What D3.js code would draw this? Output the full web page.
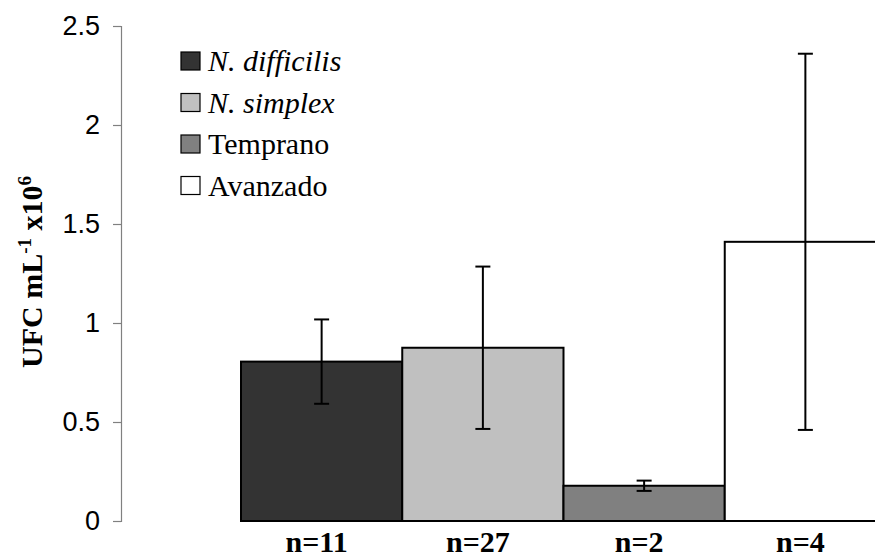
<!DOCTYPE html>
<html>
<head>
<meta charset="utf-8">
<script src="https://cdn.jsdelivr.net/npm/d3@7"></script>
<style>
  body { margin: 0; background: #fff; }
  svg { display: block; }
</style>
</head>
<body>
<svg id="chart"></svg>
<script>
// data
const groups = ["N. difficilis", "N. simplex", "Temprano", "Avanzado"];
const counts = ["n=11", "n=27", "n=2", "n=4"];
const means = [0.805, 0.875, 0.178, 1.41];
const errors = [0.213, 0.41, 0.026, 0.95];
const italicNames = [true, true, false, false];
const yTicks = [0, 0.5, 1, 1.5, 2, 2.5];

const fills = d3.scaleOrdinal().domain(groups)
  .range(["#333333", "#c0c0c0", "#808080", "#ffffff"]);

const width = 875;
const height = 559;
const svg = d3.select("#chart").attr("width", width).attr("height", height);

const y = d3.scaleLinear().domain([0, 2.5]).range([521, 26]);
const x = d3.scaleBand().domain(groups).range([241, 886]).padding(0);

// y axis
const yAxis = svg.append("g")
  .attr("transform", "translate(121,0)")
  .call(d3.axisLeft(y).tickValues(yTicks).tickSize(8).tickPadding(13)
    .tickFormat((d) => String(d)));
yAxis.select(".domain").attr("stroke", "#808080").attr("stroke-width", 1.2);
yAxis.selectAll(".tick line").attr("stroke", "#808080").attr("stroke-width", 1.2);
yAxis.selectAll("text")
  .style("font-family", "'Liberation Sans', Arial, sans-serif")
  .style("font-size", "27px")
  .attr("fill", "#000");

// bars
svg.selectAll("rect.bar")
  .data(groups)
  .enter()
  .append("rect")
  .attr("class", "bar")
  .attr("x", (d) => x(d))
  .attr("y", (d, i) => y(means[i]))
  .attr("width", x.bandwidth())
  .attr("height", (d, i) => y(0) - y(means[i]))
  .attr("fill", (d) => fills(d))
  .attr("stroke", "#000")
  .attr("stroke-width", 2);

// error bars
const eb = svg.selectAll("g.err")
  .data(groups)
  .enter()
  .append("g")
  .attr("class", "err")
  .attr("stroke", "#000")
  .attr("stroke-width", 2);
const cx = (d) => x(d) + x.bandwidth() / 2;
eb.append("line")
  .attr("x1", cx).attr("x2", cx)
  .attr("y1", (d, i) => y(means[i] + errors[i]))
  .attr("y2", (d, i) => y(means[i] - errors[i]));
eb.append("line")
  .attr("x1", (d) => cx(d) - 7.5).attr("x2", (d) => cx(d) + 7.5)
  .attr("y1", (d, i) => y(means[i] + errors[i]))
  .attr("y2", (d, i) => y(means[i] + errors[i]));
eb.append("line")
  .attr("x1", (d) => cx(d) - 7.5).attr("x2", (d) => cx(d) + 7.5)
  .attr("y1", (d, i) => y(means[i] - errors[i]))
  .attr("y2", (d, i) => y(means[i] - errors[i]));

// category labels under the bars
svg.selectAll("text.count")
  .data(groups)
  .enter()
  .append("text")
  .attr("class", "count")
  .attr("x", (d) => cx(d) - 5)
  .attr("y", 552)
  .attr("text-anchor", "middle")
  .style("font-family", "'Liberation Serif', 'Times New Roman', serif")
  .style("font-weight", "bold")
  .style("font-size", "30px")
  .text((d, i) => counts[i]);

// y axis title
const title = svg.append("text")
  .attr("transform", "translate(42,272) rotate(-90)")
  .attr("text-anchor", "middle")
  .style("font-family", "'Liberation Serif', 'Times New Roman', serif")
  .style("font-weight", "bold")
  .style("font-size", "30px");
title.append("tspan").text("UFC mL");
title.append("tspan").attr("dy", -11).style("font-size", "19px").text("-1");
title.append("tspan").attr("dy", 11).text(" x10");
title.append("tspan").attr("dy", -11).style("font-size", "19px").text("6");

// legend
const legend = svg.selectAll("g.legend")
  .data(groups)
  .enter()
  .append("g")
  .attr("class", "legend")
  .attr("transform", (d, i) => `translate(181,${61 + i * 41.5})`);
legend.append("rect")
  .attr("x", 0).attr("y", -9)
  .attr("width", 19).attr("height", 18)
  .attr("fill", (d) => fills(d))
  .attr("stroke", "#000")
  .attr("stroke-width", 1.2);
legend.append("text")
  .attr("x", 27)
  .attr("y", 10)
  .style("font-family", "'Liberation Serif', 'Times New Roman', serif")
  .style("font-size", "30px")
  .style("font-style", (d, i) => (italicNames[i] ? "italic" : "normal"))
  .text((d) => d);
</script>
</body>
</html>
